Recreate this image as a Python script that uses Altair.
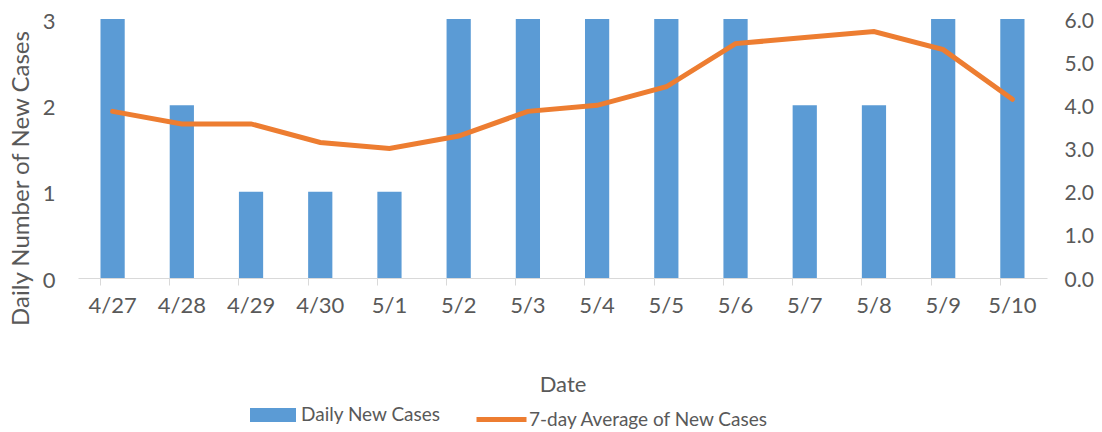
import altair as alt
import pandas as pd

dates = ["4/27", "4/28", "4/29", "4/30", "5/1", "5/2", "5/3", "5/4", "5/5", "5/6", "5/7", "5/8", "5/9", "5/10"]
daily = [3, 2, 1, 1, 1, 3, 3, 3, 3, 3, 2, 2, 3, 3]
avg7 = [3.86, 3.57, 3.57, 3.14, 3.0, 3.29, 3.86, 4.0, 4.43, 5.43, 5.57, 5.71, 5.29, 4.14]

df = pd.DataFrame({"Date": dates, "daily": daily, "avg": avg7,
                   "s1": "Daily New Cases", "s2": "7-day Average of New Cases"})

FONT = "Lato"
GREY = "#595959"

xenc = alt.X("Date:N", sort=dates,
             scale=alt.Scale(paddingInner=0.65, paddingOuter=0.325),
             axis=alt.Axis(title="Date", labelAngle=0, bandPosition=0,
                           domainColor="#D9D9D9", tickColor="#D9D9D9", tickSize=7,
                           labelPadding=10, labelFontSize=22, labelColor=GREY,
                           titleFontSize=22, titleColor=GREY, titleFontWeight="normal",
                           titlePadding=58))

bars = alt.Chart(df).mark_bar(color="#5B9BD5").encode(
    x=xenc,
    y=alt.Y("daily:Q", scale=alt.Scale(domain=[0, 3]),
            axis=alt.Axis(title="Daily Number of New Cases", values=[0, 1, 2, 3],
                          domain=False, ticks=False, grid=False, labelPadding=23,
                          labelOffset=2,
                          labelFontSize=22, labelColor=GREY, titleFontSize=24,
                          titleColor=GREY, titleFontWeight="normal",
                          titleX=-45, titleY=159)),
    fill=alt.Fill("s1:N", scale=alt.Scale(range=["#5B9BD5"]),
                  legend=alt.Legend(title=None, orient="none", legendX=172, legendY=373,
                                    symbolType="M-1,-0.3H1V0.3H-1Z", symbolSize=2116,
                                    symbolStrokeWidth=0, symbolOpacity=1, labelLimit=400,
                                    labelFontSize=19, labelColor=GREY, labelOffset=5)),
)

line = alt.Chart(df).mark_line(color="#ED7D31", strokeWidth=5, strokeCap="round").encode(
    x=alt.X("Date:N", sort=dates),
    y=alt.Y("avg:Q", scale=alt.Scale(domain=[0, 6]),
            axis=alt.Axis(title=None, orient="right", values=[0, 1, 2, 3, 4, 5, 6],
                          format=".1f", domain=False, ticks=False, grid=False,
                          labelPadding=17, labelOffset=2, labelFontSize=21, labelColor=GREY)),
    stroke=alt.Stroke("s2:N", scale=alt.Scale(range=["#ED7D31"]),
                      legend=alt.Legend(title=None, orient="none", legendX=396, legendY=373,
                                        symbolType="stroke", symbolSize=2500,
                                        symbolStrokeWidth=5, labelLimit=400,
                                        labelFontSize=19, labelColor=GREY, labelOffset=0)),
)

chart = alt.layer(bars, line).resolve_scale(y="independent", fill="independent",
                                             stroke="independent").properties(
    width=969, height=259,
    autosize=alt.AutoSizeParams(type="none"),
    padding={"left": 70, "top": 11, "right": 47, "bottom": 170},
).configure(font=FONT).configure_view(stroke=None)

chart.save("out.html", embed_options={"renderer": "svg", "actions": False})
